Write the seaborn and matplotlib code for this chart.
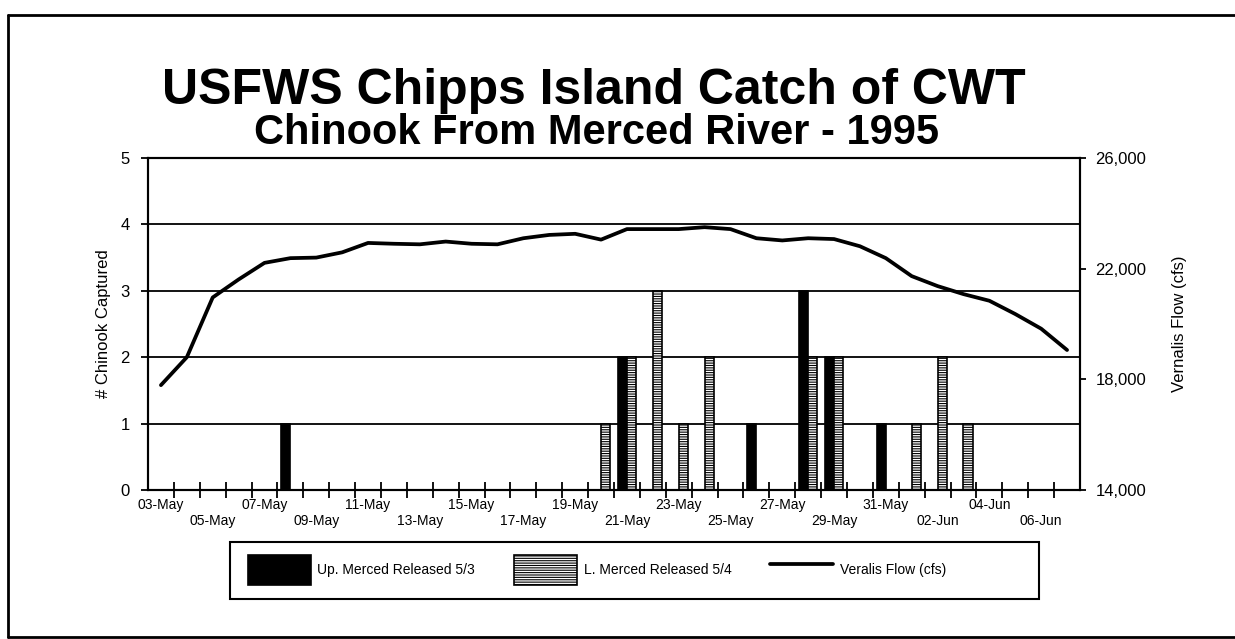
import matplotlib
matplotlib.use("Agg")
import matplotlib.pyplot as plt
import numpy as np
import pandas as pd
import seaborn as sns
from matplotlib.lines import Line2D
from matplotlib.patches import Rectangle
from matplotlib.ticker import FuncFormatter

# categories: one per day, 03-May .. 07-Jun 1995
dates = pd.date_range("1995-05-03", "1995-06-07", freq="D")
date_labels = [d.strftime("%d-%b") for d in dates]

# chinook captured per day
up_merced = [0, 0, 0, 0, 0, 1, 0, 0, 0, 0,
             0, 0, 0, 0, 0, 0, 0, 0, 2, 0,
             0, 0, 0, 1, 0, 3, 2, 0, 1, 0,
             0, 0, 0, 0, 0, 0]
l_merced = [0, 0, 0, 0, 0, 0, 0, 0, 0, 0,
            0, 0, 0, 0, 0, 0, 0, 1, 2, 3,
            1, 2, 0, 0, 0, 2, 2, 0, 0, 1,
            2, 1, 0, 0, 0, 0]

# Vernalis flow (cfs)
flow = [17790, 18800, 20960, 21610, 22210, 22380, 22400, 22590, 22930, 22900,
        22880, 22980, 22900, 22880, 23100, 23220, 23260, 23050, 23430, 23430,
        23430, 23500, 23430, 23100, 23020, 23100, 23070, 22810, 22380, 21730,
        21370, 21080, 20840, 20360, 19830, 19060]

up_name = "Up. Merced Released 5/3"
l_name = "L. Merced Released 5/4"
flow_name = "Veralis Flow (cfs)"

sns.set_style("white")
plt.rcParams["font.family"] = ["Liberation Sans", "DejaVu Sans"]
plt.rcParams["text.color"] = "black"
plt.rcParams["axes.labelcolor"] = "black"
plt.rcParams["xtick.color"] = "black"
plt.rcParams["ytick.color"] = "black"
plt.rcParams["hatch.color"] = "black"
plt.rcParams["hatch.linewidth"] = 0.8

W, H = 1235, 639
fig = plt.figure(figsize=(W / 100, H / 100), dpi=100)
ax = fig.add_axes([148 / W, 1 - 490 / H, 932 / W, 332 / H])

df_bars = pd.DataFrame({
    "date": date_labels * 2,
    "count": up_merced + l_merced,
    "series": [up_name] * len(date_labels) + [l_name] * len(date_labels),
})

sns.barplot(
    data=df_bars, x="date", y="count", hue="series",
    order=date_labels, hue_order=[up_name, l_name],
    palette={up_name: "black", l_name: "white"},
    saturation=1, width=0.72, errorbar=None,
    edgecolor="black", linewidth=1.2, legend=False, ax=ax,
)
for bar in ax.containers[1]:
    bar.set_hatch("-------")

ax2 = ax.twinx()
df_flow = pd.DataFrame({"pos": np.arange(len(flow)), "flow": flow})
sns.lineplot(data=df_flow, x="pos", y="flow", color="black", lw=2.7, ax=ax2)
ax2.set_xlabel("")

# axes and ticks
ax.set_xlim(-0.5, len(date_labels) - 0.5)
ax.set_ylim(0, 5)
ax.set_yticks(range(6))
ax.set_axisbelow(True)
ax.yaxis.grid(True, color="black", lw=1.3)
ax.xaxis.grid(False)
ax.set_xlabel("")

ax.set_xticks(np.arange(0.5, len(date_labels) - 1, 1.0))
ax.set_xticklabels([])
lab_pos = np.arange(0, len(date_labels), 2)
ax.set_xticks(lab_pos, minor=True)
ax.set_xticklabels(
    [date_labels[i] if i % 4 == 0 else "\n" + date_labels[i] for i in lab_pos],
    minor=True, fontsize=10, linespacing=1.15,
)
ax.tick_params(axis="x", which="major", direction="inout", length=12,
               width=1.3, bottom=True)
ax.tick_params(axis="x", which="minor", length=0, pad=6, bottom=True)
ax.tick_params(axis="y", direction="out", length=5, width=1.3,
               labelsize=12, pad=8, left=True)

ax2.set_ylim(14000, 26000)
ax2.set_yticks([14000, 18000, 22000, 26000])
ax2.yaxis.set_major_formatter(FuncFormatter(lambda v, p: f"{v:,.0f}"))
ax2.tick_params(axis="y", direction="out", length=4, width=1.3,
                labelsize=12, pad=7, right=True)

for a in (ax, ax2):
    for s in a.spines.values():
        s.set_color("black")
        s.set_linewidth(1.5)

ax.set_ylabel("# Chinook Captured", fontsize=12)
ax.yaxis.set_label_coords(-0.040, 0.5)
ax2.set_ylabel("Vernalis Flow (cfs)", fontsize=12)
ax2.yaxis.set_label_coords(1.0987, 0.5)

# titles
fig.text(594 / W, 1 - 104 / H, "USFWS Chipps Island Catch of CWT",
         ha="center", va="baseline", fontsize=36, fontweight="bold")
fig.text(596 / W, 1 - 144 / H, "Chinook From Merced River - 1995",
         ha="center", va="baseline", fontsize=30, fontweight="bold")

# legend with its own box
handles = [
    Rectangle((0, 0), 1, 1, facecolor="black", edgecolor="black", lw=1.2),
    Rectangle((0, 0), 1, 1, facecolor="white", edgecolor="black", lw=1.2,
              hatch="-------"),
    Line2D([], [], color="black", lw=2.7),
]
fig.legend(handles, [up_name, l_name, flow_name], loc="center left",
           bbox_to_anchor=(248 / W, 1 - 570 / H), ncol=3, frameon=False,
           fontsize=10, handlelength=4.5, handleheight=3.0,
           handletextpad=0.5, columnspacing=2.8, borderpad=0,
           borderaxespad=0)
fig.add_artist(Rectangle((230 / W, 1 - 599 / H), 809 / W, 57 / H,
                         transform=fig.transFigure, fill=False,
                         ec="black", lw=1.5))

# outer frame (left, top, bottom)
for xs, ys in [([8, 8], [15, 637]), ([8, W], [15, 15]), ([8, W], [637, 637])]:
    fig.add_artist(Line2D([x / W for x in xs], [1 - y / H for y in ys],
                          transform=fig.transFigure, color="black", lw=2))

fig.savefig("out.png", dpi=100)
